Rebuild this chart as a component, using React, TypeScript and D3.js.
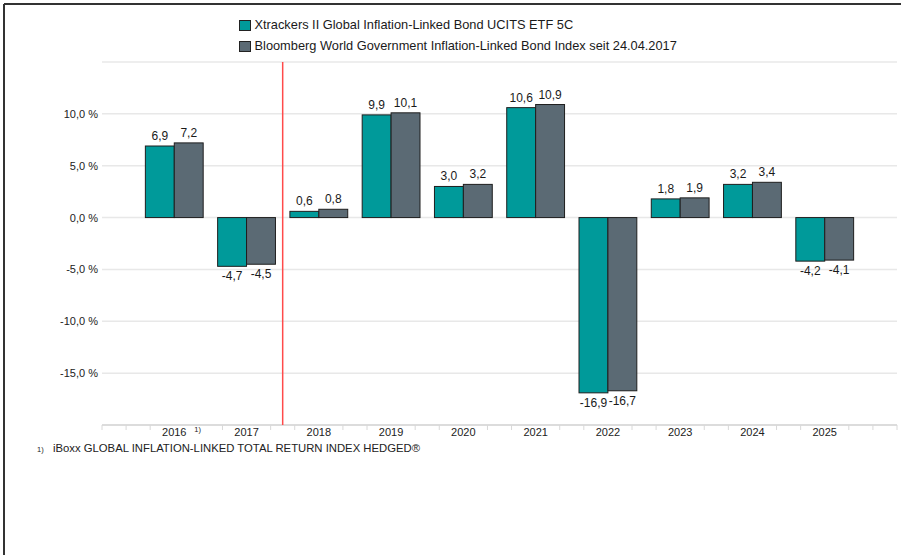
import React from 'react';
import * as d3 from 'd3';

const years = ['2016', '2017', '2018', '2019', '2020', '2021', '2022', '2023', '2024', '2025'];
const etfReturns = [6.9, -4.7, 0.6, 9.9, 3.0, 10.6, -16.9, 1.8, 3.2, -4.2];
const indexReturns = [7.2, -4.5, 0.8, 10.1, 3.2, 10.9, -16.7, 1.9, 3.4, -4.1];
const yLabelTicks = [-15, -10, -5, 0, 5, 10];
const seriesNames = [
  'Xtrackers II Global Inflation-Linked Bond UCITS ETF 5C',
  'Bloomberg World Government Inflation-Linked Bond Index seit 24.04.2017',
];
const seriesColors = ['#009a9a', '#5b6a74'];
const footnote = 'iBoxx GLOBAL INFLATION-LINKED TOTAL RETURN INDEX HEDGED®';

const W = 901;
const H = 555;
const margin = { top: 62, right: 4, bottom: 130, left: 102 };
const FONT = '"Liberation Sans", Arial, sans-serif';

const fmt = (v: number) => d3.format('.1f')(v).replace('.', ',').replace('−', '-');

export default function App() {
  const x = d3.scalePoint<string>()
    .domain(years)
    .range([margin.left, W - margin.right])
    .padding(1);
  const step = x.step();

  const groupW = step * 0.8;
  const inner = d3.scaleBand<number>()
    .domain([0, 1])
    .range([-groupW / 2, groupW / 2]);

  const y = d3.scaleLinear()
    .domain([-20, 15])
    .range([H - margin.bottom, margin.top]);

  const rows = years.map((yr, i) => ({ year: yr, values: [etfReturns[i], indexReturns[i]] }));

  // red marker between 2017 and 2018 (index change)
  const markX = ((x('2017') as number) + (x('2018') as number)) / 2;

  const minorStep = step / 3;
  const nMinor = Math.round((W - margin.right - margin.left) / minorStep);
  const minor = d3.range(0, nMinor + 1).map((i) => margin.left + i * minorStep)
    .filter((t) => !years.some((yr) => Math.abs((x(yr) as number) - t) < 3))
    .filter((t) => Math.abs((x('2016') as number) + minorStep - t) > 3);

  const axisY = y(-20);

  return (
    <div style={{ position: 'fixed', left: 0, top: 0 }}>
      <svg width={W} height={H} style={{ display: 'block', background: '#fff' }} fontFamily={FONT}>
        {/* frame */}
        <line x1={4} x2={W} y1={4} y2={4} stroke="#333" strokeWidth={2} />
        <line x1={4} x2={4} y1={4} y2={H} stroke="#333" strokeWidth={2} />

        {/* legend */}
        {seriesNames.map((name, i) => (
          <g key={name} transform={`translate(239,${20 + i * 21})`}>
            <rect x={0.5} y={0.5} width={11} height={10} fill={seriesColors[i]} stroke="#222" strokeWidth={1} />
            <text x={15.5} y={9} fontSize={12.8} fill="#1a1a1a">{name}</text>
          </g>
        ))}

        {/* grid */}
        {d3.range(-15, 20, 5).map((v) => (
          <line key={`g${v}`} x1={margin.left} x2={W - margin.right} y1={y(v)} y2={y(v)}
            stroke="#e8e8e8" strokeWidth={1.5} />
        ))}
        {yLabelTicks.map((v) => (
          <text key={`yl${v}`} x={98} y={y(v) + 4} textAnchor="end" fontSize={11} fill="#222">
            {`${fmt(v)} %`}
          </text>
        ))}

        {/* x axis */}
        <line x1={margin.left} x2={W - margin.right} y1={axisY} y2={axisY} stroke="#dcdcdc" strokeWidth={2} />
        {minor.map((t) => (
          <line key={`t${t}`} x1={t} x2={t} y1={axisY} y2={axisY + 5} stroke="#d8d8d8" strokeWidth={1} />
        ))}
        {years.map((yr) => (
          <text key={`xl${yr}`} x={x(yr)} y={axisY + 11} textAnchor="middle" fontSize={11} fill="#222">
            {yr}
          </text>
        ))}
        <text x={(x('2016') as number) + 20} y={axisY + 7} fontSize={7.5} fill="#222">1)</text>

        {/* red marker */}
        <line x1={markX} x2={markX} y1={margin.top} y2={axisY} stroke="#ff4a4a" strokeWidth={1.5} />

        {/* bars */}
        {rows.map((r) => (
          <g key={r.year} transform={`translate(${x(r.year)},0)`}>
            {r.values.map((v, j) => {
              const bx = inner(j) as number;
              const bw = inner.bandwidth();
              const top = y(Math.max(0, v));
              const bot = y(Math.min(0, v));
              return (
                <g key={j}>
                  <rect x={bx} y={top} width={bw} height={bot - top}
                    fill={seriesColors[j]} stroke="#1e1e1e" strokeWidth={1} />
                  <text x={bx + bw / 2} y={v >= 0 ? top - 6 : bot + 14}
                    textAnchor="middle" fontSize={12} fill="#1a1a1a">
                    {fmt(v)}
                  </text>
                </g>
              );
            })}
          </g>
        ))}

        {/* footnote */}
        <text x={37} y={452} fontSize={7.5} fill="#222">1)</text>
        <text x={53} y={452} fontSize={11.3} fill="#222">{footnote}</text>
      </svg>
    </div>
  );
}
